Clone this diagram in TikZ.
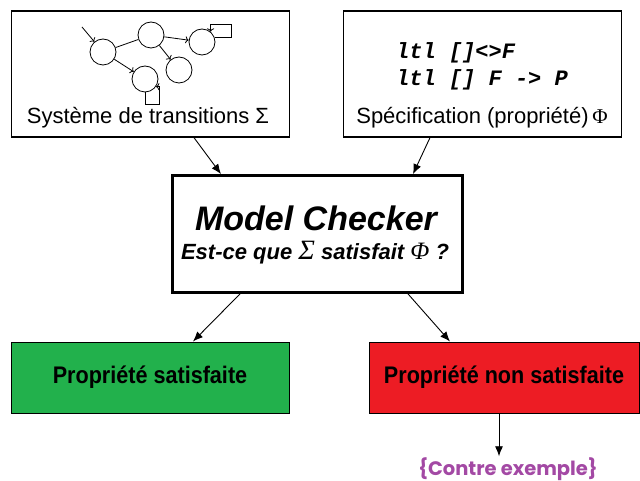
\documentclass[tikz,border=0pt]{standalone}
\usepackage{fontspec}
\setmainfont{Liberation Sans}
\newfontfamily\ltlfont{Liberation Mono}
\newfontfamily\narrowfont[FakeStretch=0.9]{Liberation Sans}
\newfontfamily\greekfont{Liberation Serif}
\newfontfamily\contrefont{Poppins}
\usetikzlibrary{arrows.meta}
\definecolor{okgreen}{HTML}{22B14C}
\definecolor{kored}{HTML}{ED1C24}
\definecolor{cepurple}{HTML}{A349A4}
\begin{document}
\begin{tikzpicture}[x=1pt,y=-1pt,
    topbox/.style={draw,line width=1.3pt,minimum width=278pt,minimum height=126pt,inner sep=0pt},
    mcbox/.style={draw,line width=2.8pt,minimum width=290pt,minimum height=117pt,inner sep=0pt},
    resbox/.style={draw,line width=1pt,minimum height=71pt,inner sep=0pt,
        font=\narrowfont\bfseries\fontsize{24}{28}\selectfont},
    lbl/.style={inner sep=0pt,font=\fontsize{22}{26}\selectfont},
    ltl/.style={anchor=west,inner sep=0pt,font=\ltlfont\bfseries\itshape\fontsize{22}{26}\selectfont},
    state/.style={circle,draw,line width=0.8pt,minimum size=26pt,inner sep=0pt},
    trans/.style={->,line width=0.8pt},
    flow/.style={-{Latex[length=10pt,width=8pt]},line width=0.9pt}]
    \useasboundingbox (0,0) rectangle (640,481);
    % boxes
    \node[topbox] (sys) at (150.5,74) {};
    \node[topbox] (spec) at (482.5,74) {};
    \node[mcbox] (mc) at (317.5,234) {};
    \node[resbox,fill=okgreen,minimum width=278pt] (ok) at (150,377.5) {Propriété satisfaite};
    \node[resbox,fill=kored,minimum width=270pt] (ko) at (504,377.5) {Propriété non satisfaite};
    % transition system
    \node[state] (s1) at (103,52) {};
    \node[state] (s2) at (151,35) {};
    \node[state] (s3) at (202,42) {};
    \node[state] (s4) at (179,70) {};
    \node[state] (s5) at (145,79) {};
    \coordinate (init) at (82,27);
    \coordinate (loop3) at (231,24);
    \coordinate (loop5) at (159,104);
    \draw[trans] (init) -- (s1);
    \draw[line width=0.8pt] (s1) -- (s2);
    \draw[trans] (s2) -- (s3);
    \draw[trans] (s2) -- (s4);
    \draw[trans] (s1) -- (s5);
    \draw[trans] (s3.20) -| (loop3) -| (s3.50);
    \draw[trans] (s5.-90) |- (loop5) |- (s5.-35);
    % texts
    \node[lbl] (syslbl) at (148,118) {Système de transitions Σ};
    \node[ltl] (ltl1) at (396,53) {ltl []<>F};
    \node[ltl] (ltl2) at (396,80) {ltl [] F -> P};
    \node[lbl] (speclbl) at (482,118) {Spécification (propriété)\,{\greekfont\fontsize{21}{24}\selectfont Φ}};
    \node[inner sep=0pt,font=\bfseries\itshape\fontsize{34}{38}\selectfont] (mctitle) at (316,218) {Model Checker};
    \node[inner sep=0pt,font=\bfseries\itshape\fontsize{22}{26}\selectfont] (mcq) at (315,253)
        {Est-ce que {\greekfont\mdseries\itshape\fontsize{28}{30}\selectfont Σ} satisfait {\greekfont\mdseries\itshape\fontsize{25}{28}\selectfont Φ} ?};
    \node[inner sep=0pt,text=cepurple,font=\contrefont\bfseries\fontsize{19.5}{23}\selectfont] (contre) at (508,469) {\{Contre exemple\}};
    % arrows
    \draw[flow] ([xshift=43.5pt]sys.south) -- ([xshift=-96.5pt]mc.north);
    \draw[flow] ([xshift=-52.5pt]spec.south) -- ([xshift=95.5pt]mc.north);
    \draw[flow] ([xshift=-77.5pt]mc.south) -- ([xshift=43pt]ok.north);
    \draw[flow] ([xshift=90.5pt]mc.south) -- ([xshift=-54pt]ko.north);
    \draw[flow] ([xshift=-5pt]ko.south) -- ([xshift=-9pt,yshift=1pt]contre.north);
\end{tikzpicture}
\end{document}
